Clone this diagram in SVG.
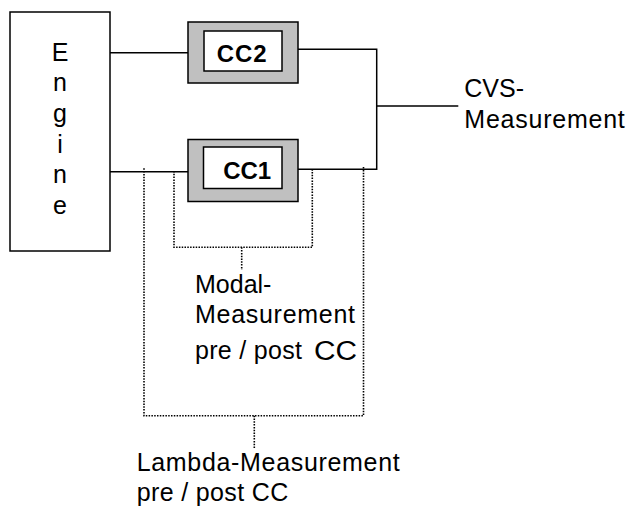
<svg xmlns="http://www.w3.org/2000/svg" width="628" height="506" viewBox="0 0 628 506">
<style>
text{font-family:"Liberation Sans",Arial,sans-serif;fill:#000}
.t{font-size:25px}
.b{font-size:24px;font-weight:bold}
.s{stroke:#000;stroke-width:1.5;fill:none}
.d{stroke:#000;stroke-width:1.6;fill:none;stroke-dasharray:1.5 1.3}
.outer{fill:#c0c0c0;stroke:#000;stroke-width:1.5}
.inner{fill:#fff;stroke:#000;stroke-width:1.5}
</style>
<rect width="628" height="506" fill="#fff"/>
<g id="connectors">
<path class="s" d="M107 52.7H188M293 49.3H376.7V169.3H293M376.7 106H458.3M105.7 171.7H188"/>
<path class="d" d="M144 168.3V415.7H363.5V166.7M254.3 415.7V448.3"/>
<path class="d" d="M174 171V247.3H312.3V168.3M241.7 247.3V270"/>
</g>
<g id="engine">
<rect x="10" y="12" width="100" height="239" fill="#fff" stroke="#000" stroke-width="1.5"/>
<g class="t" text-anchor="middle">
<text x="60" y="61">E</text>
<text x="60" y="91">n</text>
<text x="60" y="122">g</text>
<text x="60" y="153">i</text>
<text x="60" y="183">n</text>
<text x="60" y="214">e</text>
</g>
</g>
<g id="cc2">
<rect class="outer" x="188" y="22" width="110" height="61"/>
<rect class="inner" x="204" y="31" width="78" height="40"/>
<text class="b" x="216.7" y="61.7" textLength="50">CC2</text>
</g>
<g id="cc1">
<rect class="outer" x="188" y="139.5" width="110" height="62"/>
<rect class="inner" x="203.5" y="147" width="78.5" height="41.5"/>
<text class="b" x="223.3" y="179.3" textLength="47.7">CC1</text>
</g>
<g id="cvs">
<text class="t" x="464.3" y="97.3">CVS-</text>
<text class="t" x="464.3" y="128.3" textLength="160.5">Measurement</text>
</g>
<g id="modal">
<text class="t" x="195" y="293.3">Modal-</text>
<text class="t" x="195" y="323.3" textLength="160">Measurement</text>
<text class="t" x="195" y="359.3" textLength="107">pre / post</text>
<text x="314" y="360" font-size="27" textLength="43" lengthAdjust="spacingAndGlyphs">CC</text>
</g>
<g id="lambda">
<text class="t" x="136.7" y="470.7" textLength="263">Lambda-Measurement</text>
<text class="t" x="136.7" y="500.5" textLength="151.5">pre / post CC</text>
</g>
</svg>
